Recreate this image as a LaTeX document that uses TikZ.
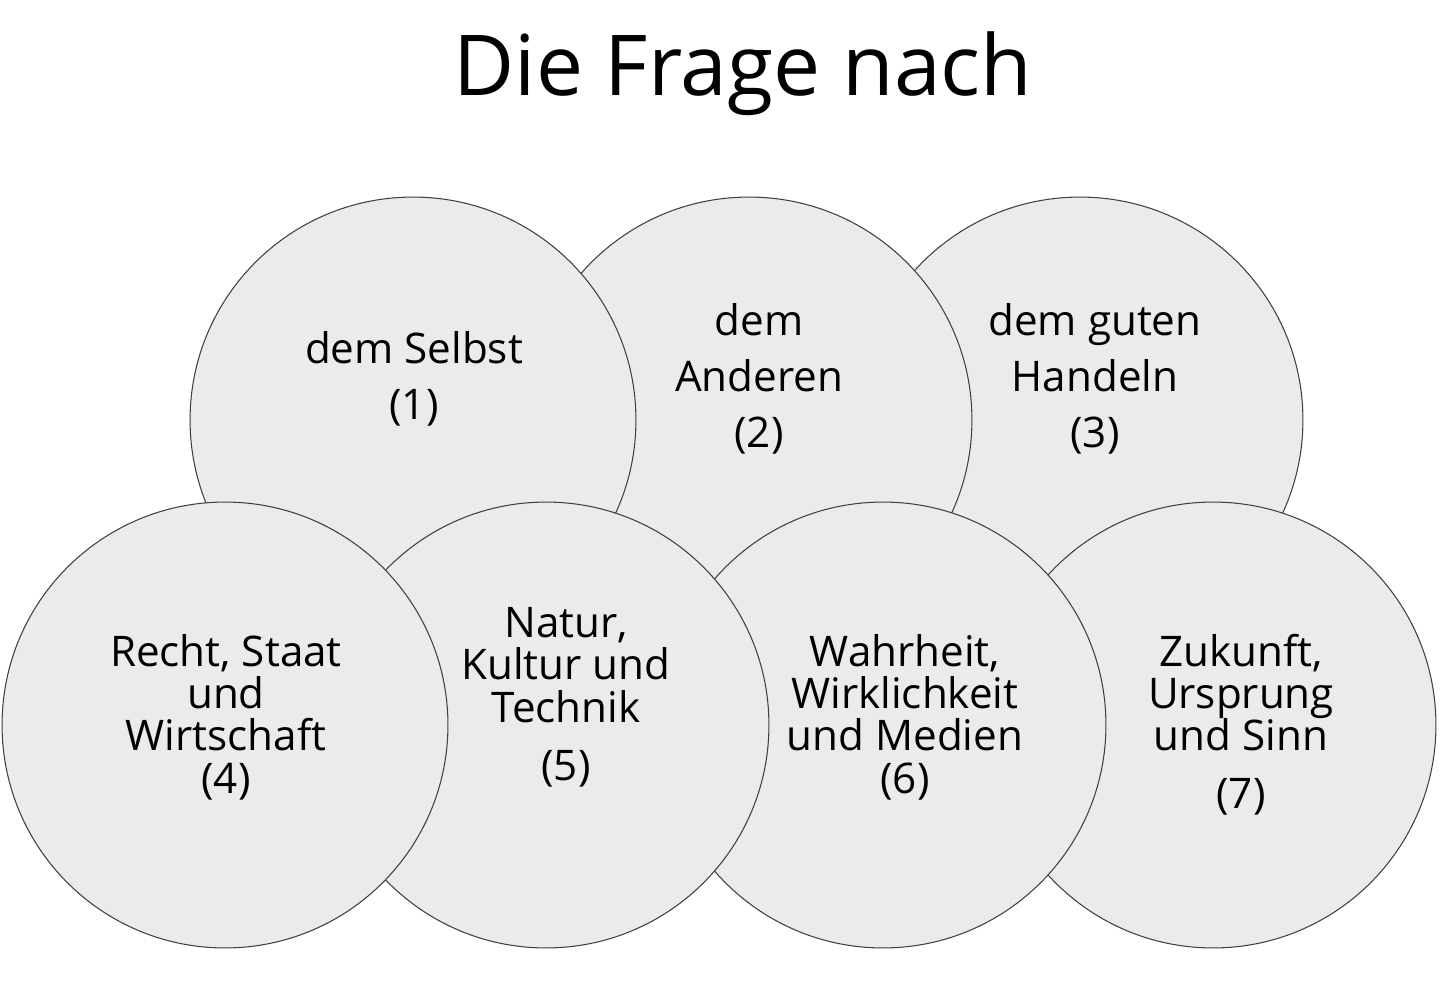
\documentclass[tikz,border=0pt]{standalone}
\usepackage{fontspec}
\usepackage{xcolor}
\usepackage{tikz}
\usetikzlibrary{positioning}
\setmainfont{Open Sans}
\definecolor{DiscGray}{HTML}{EBEBEB}
\definecolor{RimGray}{HTML}{404040}

\begin{document}
\begin{tikzpicture}[
    x=0.02cm, y=-0.02cm,
    disc/.style={circle, draw=RimGray, line width=0.6pt, fill=DiscGray,
                 minimum size=8.92cm, inner sep=0pt},
    topic/.style={font=\fontsize{24}{31.7}\selectfont, align=center,
                  anchor=base, text=black, inner sep=0pt},
    topicb/.style={topic, font=\fontsize{24}{24}\selectfont},
    headline/.style={font=\fontsize{47.8}{50}\selectfont, anchor=base, inner sep=0pt}
]
    \useasboundingbox (0,0) rectangle (1441,988);

    % Title
    \node[headline] (title) at (743,95) {Die Frage nach};

    % Upper row - right circle lies lowest
    \node[disc] (selbst3) at (1080,420) {};
    \node[disc] (selbst2) at (749,420) {};
    \node[disc] (selbst1) at (413,420) {};

    % Lower row - drawn over the upper one
    \node[disc] (welt7) at (1213,725) {};
    \node[disc] (welt6) at (883,725) {};
    \node[disc] (welt5) at (546,725) {};
    \node[disc] (welt4) at (225,725) {};

    % Texts in the circles (base = last line)
    \node[topic] (txt1) at (414,419) {dem Selbst\\(1)};
    \node[topic] (txt2) at (759,447) {dem\\Anderen\\(2)};
    \node[topic] (txt3) at (1095,447) {dem guten\\Handeln\\(3)};

    \node[topicb] (txt4) at (226,793) {Recht, Staat\\und\\Wirtschaft\\(4)};
    \node[topicb] (txt5) at (566,780) {Natur,\\Kultur und\\Technik\\[9pt](5)};
    \node[topicb] (txt6) at (905,793) {Wahrheit,\\Wirklichkeit\\und Medien\\(6)};
    \node[topicb] (txt7) at (1241,808) {Zukunft,\\Ursprung\\und Sinn\\[8.5pt](7)};
\end{tikzpicture}
\end{document}
